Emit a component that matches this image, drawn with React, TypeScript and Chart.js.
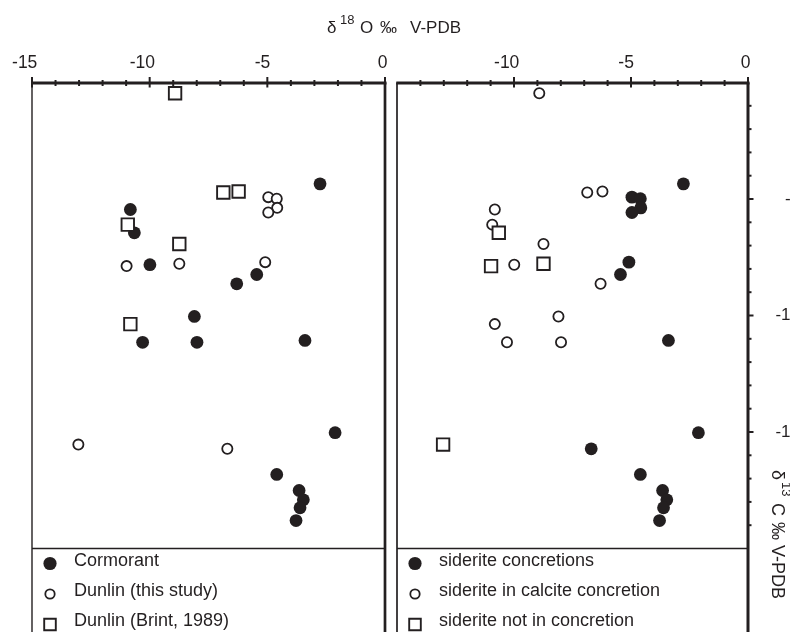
import React, { useEffect, useRef } from 'react';
import { Chart, registerables } from 'chart.js';

Chart.register(...registerables);

const INK = '#231f20';
const FONT = '"Liberation Sans", Arial, Helvetica, sans-serif';

// δ18O (‰ V-PDB) of each sample
const d18O = [
  -8.92, -6.87, -6.22, -10.93, -8.74, -10.82, -10.82, -10.65, -9.99, -6.3, -5.45,
  -8.1, -10.3, -7.99, -3.4, -2.76, -2.12, -4.6, -3.65, -3.47, -3.61, -3.78,
  -4.96, -4.6, -4.58, -4.96, -5.09, -10.98, -8.74, -13.03, -6.7,
];
// δ13C (‰ V-PDB) of each sample
const d13C = [
  -0.46, -4.72, -4.68, -6.1, -6.93, -10.37, -5.45, -6.45, -7.82, -8.64, -8.24,
  -10.04, -11.15, -11.15, -11.07, -4.35, -15.03, -16.82, -17.51, -17.91, -18.25, -18.8,
  -4.92, -4.99, -5.38, -5.58, -7.71, -7.88, -7.78, -15.54, -15.72,
];
// left panel grouping: 0 Cormorant, 1 Dunlin (this study), 2 Dunlin (Brint, 1989)
const birdGroup = [
  2, 2, 2, 2, 2, 2, 0, 0, 0, 0, 0, 0, 0, 0, 0, 0, 0, 0, 0, 0, 0, 0,
  1, 1, 1, 1, 1, 1, 1, 1, 1,
];
const birdLabels = ['Cormorant', 'Dunlin (this study)', 'Dunlin (Brint, 1989)'];
// right panel grouping: 0 concretions, 1 in calcite concretion, 2 not in concretion
const concretionGroup = [
  1, 1, 1, 1, 1, 1, 1, 2, 1, 1, 0, 1, 1, 1, 0, 0, 0, 0, 0, 0, 0, 0,
  0, 0, 0, 0, 0, 2, 2, 2, 0,
];
const concretionLabels = [
  'siderite concretions',
  'siderite in calcite concretion',
  'siderite not in concretion',
];
const xTickLabelsLeft = [-15, -10, -5, 0];
const xTickLabelsRight = [-10, -5, 0];
const yTickLabels = [-5, -10, -15];
const X_RANGE = [-15, 0];
const Y_RANGE = [-20, 0];

// title pieces: text, font size, baseline shift, x offset along the text line
type Seg = { t: string; size: number; dy: number; at: number };
const xTitleSegs: Seg[] = [
  { t: 'δ', size: 17, dy: 0, at: 0 },
  { t: '18', size: 13, dy: -9, at: 13 },
  { t: 'O', size: 17, dy: 0, at: 33 },
  { t: '‰', size: 17, dy: 0, at: 53 },
  { t: 'V-PDB', size: 17, dy: 0, at: 83 },
];
const yTitleSegs: Seg[] = [
  { t: 'δ', size: 18, dy: 0, at: 0 },
  { t: '13', size: 13, dy: -10, at: 12 },
  { t: 'C', size: 18, dy: 0, at: 33 },
  { t: '‰', size: 18, dy: 0, at: 52 },
  { t: 'V-PDB', size: 18, dy: 0, at: 75 },
];

function drawSegs(ctx: CanvasRenderingContext2D, segs: Seg[], x: number, y: number) {
  for (const s of segs) {
    ctx.font = `${s.size}px ${FONT}`;
    ctx.fillText(s.t, x + s.at, y + s.dy);
  }
}

type Panel = {
  side: 'left' | 'right';
  groups: number[];
  labels: string[];
  xTicks: number[];
};

function makeConfig(panel: Panel): any {
  const isRight = panel.side === 'right';
  const datasets = panel.labels.map((label, g) => ({
    label,
    data: d18O
      .map((x, i) => ({ x, y: d13C[i] }))
      .filter((_, i) => panel.groups[i] === g),
    pointStyle: g === 2 ? 'rect' : 'circle',
    pointRadius: [6.4, 5.1, 8.8][g],
    pointHoverRadius: [6.4, 5.1, 8.8][g],
    pointBackgroundColor: g === 0 ? INK : '#ffffff',
    pointBorderColor: INK,
    pointBorderWidth: [0, 1.8, 1.9][g],
    order: 3 - g,
  }));

  const framePlugin = {
    id: 'frame' + panel.side,
    afterDraw(chart: any) {
      const ctx: CanvasRenderingContext2D = chart.ctx;
      const { left, right, top, bottom } = chart.chartArea;
      const H = chart.height;
      const xs = chart.scales.x;
      const ys = chart.scales.y;
      ctx.save();
      ctx.strokeStyle = INK;
      ctx.fillStyle = INK;
      const line = (x1: number, y1: number, x2: number, y2: number, w: number) => {
        ctx.lineWidth = w;
        ctx.beginPath();
        ctx.moveTo(x1, y1);
        ctx.lineTo(x2, y2);
        ctx.stroke();
      };
      // frame
      line(left, bottom, right, bottom, 1.7);
      line(left, top, left, H, isRight ? 1.7 : 1.4);
      line(right, top, right, H, isRight ? 3 : 2.7);
      line(left - 0.7, top + 0.5, right + 1.5, top + 0.5, 3);
      // x ticks
      for (let v = X_RANGE[0]; v <= X_RANGE[1]; v++) {
        if (isRight && v === X_RANGE[0]) continue;
        const px = xs.getPixelForValue(v);
        const major = v % 5 === 0;
        line(px, top + 0.5 - (major ? 6 : 3), px, top + 0.5 + (major ? 4.5 : 3), 2);
      }
      // y ticks
      if (isRight) {
        for (let v = -1; v > Y_RANGE[0]; v--) {
          const py = ys.getPixelForValue(v);
          const major = v % 5 === 0;
          line(right, py, right + (major ? 5.5 : 3.5), py, 2);
        }
      }
      // legend
      ctx.textBaseline = 'middle';
      ctx.textAlign = 'left';
      panel.labels.forEach((lab, g) => {
        const mx = left + 18;
        const my = bottom + 15 + g * 30.5;
        ctx.beginPath();
        if (g === 0) {
          ctx.arc(mx, my, 6.6, 0, Math.PI * 2);
          ctx.fill();
        } else if (g === 1) {
          ctx.lineWidth = 1.8;
          ctx.arc(mx, my, 4.7, 0, Math.PI * 2);
          ctx.stroke();
        } else {
          ctx.lineWidth = 1.9;
          ctx.rect(mx - 5.8, my - 5.8, 11.6, 11.6);
          ctx.stroke();
        }
        ctx.font = `18px ${FONT}`;
        ctx.fillText(lab, left + 42, bottom + 13 + g * 29.6);
      });
      // titles
      ctx.textBaseline = 'alphabetic';
      if (!isRight) {
        drawSegs(ctx, xTitleSegs, 327, 33);
      } else {
        ctx.translate(772, 470);
        ctx.rotate(Math.PI / 2);
        drawSegs(ctx, yTitleSegs, 0, 0);
      }
      ctx.restore();
    },
  };

  const xTicks = panel.xTicks;
  return {
    type: 'scatter',
    data: { datasets },
    options: {
      responsive: false,
      maintainAspectRatio: false,
      animation: false,
      events: [],
      layout: {
        padding: isRight
          ? { left: 397, right: 0, top: 0, bottom: 83.5 }
          : { left: 32, right: 405, top: 0, bottom: 83.5 },
      },
      plugins: {
        legend: { display: false },
        tooltip: { enabled: false },
        title: { display: false },
      },
      scales: {
        x: {
          type: 'linear',
          position: 'top',
          min: X_RANGE[0],
          max: X_RANGE[1],
          grid: { display: false, drawTicks: false },
          border: { display: false },
          ticks: {
            stepSize: 1,
            autoSkip: false,
            maxRotation: 0,
            padding: 8.5,
            color: INK,
            font: { family: FONT, size: 17.5 },
            callback: (v: any) => {
              if (!xTicks.includes(Number(v))) return '';
              const s = String(v);
              return s + ' '.repeat(s.length);
            },
          },
          afterFit: (s: any) => {
            s.height = 82.5;
          },
        },
        y: isRight
          ? {
              type: 'linear',
              position: 'right',
              min: Y_RANGE[0],
              max: Y_RANGE[1],
              grid: { display: false, drawTicks: false },
              border: { display: false },
              ticks: {
                stepSize: 1,
                autoSkip: false,
                padding: 15,
                crossAlign: 'far',
                color: INK,
                font: { family: FONT, size: 17 },
                callback: (v: any) => (yTickLabels.includes(Number(v)) ? String(v) : ''),
              },
              afterFit: (s: any) => {
                s.width = 52;
              },
            }
          : { type: 'linear', display: false, min: Y_RANGE[0], max: Y_RANGE[1] },
      },
    },
    plugins: [framePlugin],
  };
}

export default function App() {
  const leftRef = useRef<HTMLCanvasElement>(null);
  const rightRef = useRef<HTMLCanvasElement>(null);
  useEffect(() => {
    const c1 = new Chart(leftRef.current as HTMLCanvasElement, makeConfig({
      side: 'left',
      groups: birdGroup,
      labels: birdLabels,
      xTicks: xTickLabelsLeft,
    }));
    const c2 = new Chart(rightRef.current as HTMLCanvasElement, makeConfig({
      side: 'right',
      groups: concretionGroup,
      labels: concretionLabels,
      xTicks: xTickLabelsRight,
    }));
    return () => {
      c1.destroy();
      c2.destroy();
    };
  }, []);
  return (
    <div
      style={{
        position: 'absolute',
        left: 0,
        top: 0,
        width: 790,
        height: 632,
        overflow: 'hidden',
        background: '#ffffff',
      }}
    >
      <canvas
        ref={leftRef}
        width={790}
        height={632}
        style={{ position: 'absolute', left: 0, top: 0, width: 790, height: 632 }}
      />
      <canvas
        ref={rightRef}
        width={800}
        height={632}
        style={{ position: 'absolute', left: 0, top: 0, width: 800, height: 632 }}
      />
    </div>
  );
}
